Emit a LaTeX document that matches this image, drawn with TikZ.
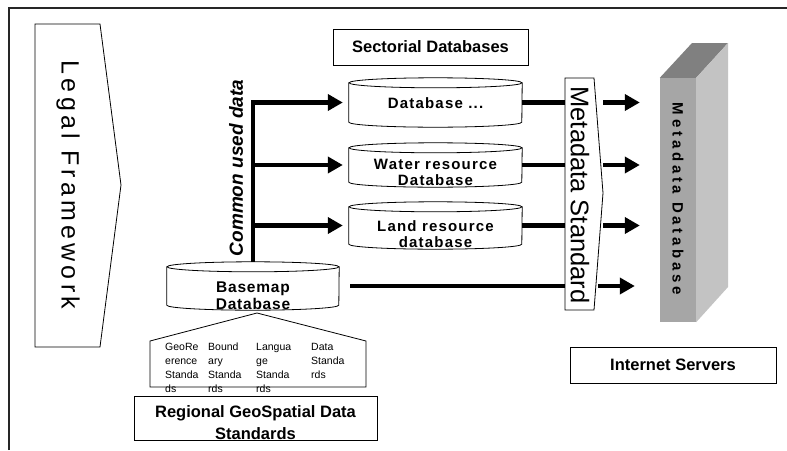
\documentclass[tikz,border=0pt]{standalone}
\usepackage{fontspec}
\setmainfont{Liberation Sans}
\usetikzlibrary{arrows.meta,calc}
\definecolor{mdtop}{HTML}{808080}
\definecolor{mdfront}{HTML}{A6A6A6}
\definecolor{mdside}{HTML}{C3C3C3}
\newcommand\cylshape[2]{%
  \draw[outline] (#1.north west) -- (#1.south west)
    arc[start angle=180,end angle=0,x radius=#2,y radius=5] -- (#1.north east);
  \draw[outline] (#1.north) ellipse[x radius=#2,y radius=5];}
\begin{document}
\begin{tikzpicture}[x=1pt,y=-1pt,
  outline/.style={draw=black,line width=0.8pt},
  arr/.style={line width=4.5pt,-{Triangle[length=15pt,width=16pt]}},
  thickline/.style={line width=4.5pt},
  titlebox/.style={draw=black,line width=0.8pt,inner sep=0pt,
    font=\bfseries\fontsize{16.5}{22}\selectfont},
  cylbody/.style={inner sep=0pt,minimum width=173pt},
  cyltext/.style={align=center,inner sep=0pt,
    font=\bfseries\fontsize{15}{15.5}\selectfont\addfontfeature{LetterSpace=8}},
  stdtext/.style={align=left,anchor=north west,inner sep=0pt,
    font=\fontsize{10.5}{14}\selectfont}]
\useasboundingbox (0,0) rectangle (787,450);
% frame
\draw[line width=1.5pt,draw=black!85] (9,450) -- (9,8) -- (787,8);
% Legal framework chevron
\draw[outline] (35,24) -- (100,24) -- (121,185) -- (100,347) -- (35,347) -- cycle;
\node[rotate=-90,inner sep=0pt,
  font=\fontsize{25}{25}\selectfont\addfontfeature{LetterSpace=17}] (legal) at (68,185) {Legal Framework};
% Sectorial databases
\node[titlebox,minimum width=195pt,minimum height=36pt] (sect) at (430.5,47) {Sectorial Databases};
% cylinders
\node[cylbody,minimum height=39pt] (db1) at (435.5,102.5) {};
\cylshape{db1}{86.5}
\node[cyltext] (t1) at (435.5,103) {Database ...};
\node[cylbody,minimum height=34pt] (db2) at (435.5,165) {};
\cylshape{db2}{86.5}
\node[cyltext] (t2) at (435.5,172.5) {Water resource\\Database};
\node[cylbody,minimum height=37pt] (db3) at (435.5,225.5) {};
\cylshape{db3}{86.5}
\node[cyltext] (t3) at (435.5,234) {Land resource\\database};
% basemap
\node[inner sep=0pt,minimum width=172pt,minimum height=38pt] (base) at (253,286) {};
\cylshape{base}{86}
\node[align=center,inner sep=0pt,
  font=\bfseries\fontsize{15.5}{17}\selectfont\addfontfeature{LetterSpace=5}] (bt) at (253,295.5) {Basemap\\Database};
% common used data
\node[rotate=90,inner sep=0pt,font=\bfseries\itshape\fontsize{19}{19}\selectfont] (common) at (236,168) {Common used data};
\coordinate (trunk) at (253,102.5);
\draw[arr,shorten >=6pt] ([yshift=5pt]base.north) -- (trunk) -- (db1.west);
\draw[arr,shorten >=6pt] (trunk |- db2.west) -- (db2.west);
\draw[arr,shorten >=6pt] (trunk |- db3.west) -- (db3.west);
% metadata standard chevron
\draw[outline] (565,78) -- (594,78) -- (603,193) -- (594,310) -- (565,310) -- cycle;
\node[inner sep=0pt,minimum width=29pt,minimum height=232pt] (meta) at (579.5,194) {};
\node[rotate=-90,inner sep=0pt,font=\fontsize{25.5}{26}\selectfont] (metat) at (580,195) {Metadata Standard};
% metadata database block
\node[fill=mdfront,inner sep=0pt,minimum width=36pt,minimum height=244pt] (mdb) at (678,200) {};
\fill[mdtop] (mdb.north west) -- (692,43) -- (728,43) -- (mdb.north east) -- cycle;
\fill[mdside] (mdb.north east) -- (728,43) -- (728,287) -- (mdb.south east) -- cycle;
\node[rotate=-90,inner sep=0pt,
  font=\bfseries\fontsize{15}{15}\selectfont\addfontfeature{LetterSpace=25}] (mdbt) at (678,199) {Metadata Database};
% lines into metadata standard
\draw[thickline] (db1.east) -- (meta.west |- db1.east);
\draw[thickline] (db2.east) -- (meta.west |- db2.east);
\draw[thickline] (db3.east) -- (meta.west |- db3.east);
\draw[thickline,shorten <=11pt] (base.east) -- (meta.west |- base.east);
% arrows to metadata database
\draw[arr,shorten <=9pt,shorten >=20pt] (meta.east |- db1.east) -- (mdb.west |- db1.east);
\draw[arr,shorten <=9pt,shorten >=20pt] (meta.east |- db2.east) -- (mdb.west |- db2.east);
\draw[arr,shorten <=9pt,shorten >=20pt] (meta.east |- db3.east) -- (mdb.west |- db3.east);
\draw[arr,shorten <=4pt,shorten >=25pt] (meta.east |- base.east) -- (mdb.west |- base.east);
% internet servers
\node[titlebox,minimum width=206pt,minimum height=36pt] (inet) at (673,365) {Internet Servers};
% standards house
\draw[outline] (150,341) -- (257,313) -- (366,341) -- (366,387) -- (150,387) -- cycle;
\node[stdtext] (s1) at (165,343) {GeoRe\\erence\\Standa\\ds};
\node[stdtext] (s2) at (208,343) {Bound\\ary\\Standa\\rds};
\node[stdtext] (s3) at (256,343) {Langua\\ge\\Standa\\rds};
\node[stdtext] (s4) at (311,343) {Data\\Standa\\rds};
% regional standards
\node[draw=black,line width=0.8pt,minimum width=243pt,minimum height=44pt,inner sep=0pt] (reg) at (255.5,418) {};
\node[align=center,inner sep=0pt,font=\bfseries\fontsize{16.5}{22}\selectfont] (regt) at (255.5,423) {Regional GeoSpatial Data\\Standards};
\end{tikzpicture}
\end{document}
